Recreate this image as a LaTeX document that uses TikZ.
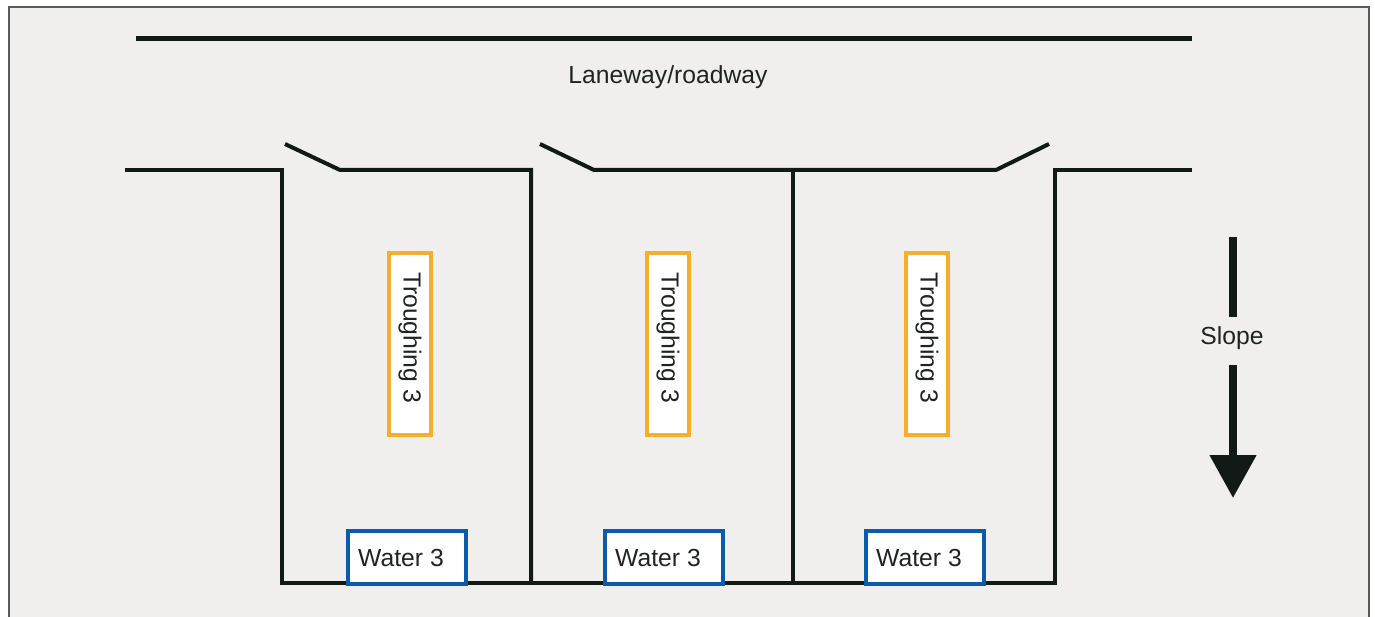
\documentclass[tikz,border=0pt]{standalone}
\usepackage{fontspec}
\setmainfont{Liberation Sans}
\usetikzlibrary{arrows.meta}
\definecolor{bg}{HTML}{F0EFED}
\definecolor{ink}{HTML}{111A17}
\definecolor{txt}{HTML}{1F2422}
\definecolor{framec}{HTML}{565B5A}
\definecolor{trough}{HTML}{F9AE2A}
\definecolor{water}{HTML}{0A5BAA}
\begin{document}
\begin{tikzpicture}[x=1pt,y=-1pt,
  fence/.style={draw=ink,line width=4pt,line join=miter},
  road/.style={draw=ink,line width=5pt},
  lbl/.style={text=txt,font=\fontsize{24.7}{29}\selectfont,inner sep=0pt},
  troughbox/.style={lbl,draw=trough,fill=white,line width=4pt,rotate=-90,
    minimum width=182pt,minimum height=42pt},
  waterbox/.style={lbl,draw=water,fill=white,line width=4pt,
    minimum width=118pt,minimum height=53pt},
  slope/.style={draw=ink,line width=8pt},
]
\useasboundingbox (0,0) rectangle (1375,617);
\fill[white] (0,0) rectangle (1375,617);
\fill[bg] (9,7) rectangle (1369,617);
\draw[framec,line width=2pt] (9,617) -- (9,7) -- (1369,7) -- (1369,617);

% road
\coordinate (r1) at (136,39);
\coordinate (r2) at (1192,39);
\draw[road] (r1) -- (r2);
\node[lbl] (lane) at (668,77) {Laneway/roadway};

% fence coordinates
\coordinate (fL) at (125,170);
\coordinate (c1t) at (282,170);
\coordinate (c1b) at (282,583);
\coordinate (c4b) at (1055,583);
\coordinate (c4t) at (1055,170);
\coordinate (fR) at (1192,170);
\coordinate (g1a) at (285,144);
\coordinate (g1b) at (340,170);
\coordinate (c2t) at (531,170);
\coordinate (c2b) at (531,583);
\coordinate (g2a) at (540,144);
\coordinate (g2b) at (594,170);
\coordinate (g3a) at (996,170);
\coordinate (g3b) at (1049,144);
\coordinate (c3t) at (793,170);
\coordinate (c3b) at (793,583);

\draw[fence] (fL) -- (c1t) -- (c1b) -- (c4b) -- (c4t) -- (fR);
\draw[fence] (g1a) -- (g1b) -- (c2t) -- (c2b);
\draw[fence] (g2a) -- (g2b) -- (g3a) -- (g3b);
\draw[fence] (c3t) -- (c3b);

% troughing
\node[troughbox] (t1) at (410,344) {Troughing 3\kern13pt};
\node[troughbox] (t2) at (668,344) {Troughing 3\kern13pt};
\node[troughbox] (t3) at (927,344) {Troughing 3\kern13pt};

% water
\node[waterbox] (w1) at (407,557.5) {Water 3\kern12pt};
\node[waterbox] (w2) at (664,557.5) {Water 3\kern12pt};
\node[waterbox] (w3) at (925,557.5) {Water 3\kern12pt};

% slope
\coordinate (s0) at (1233,237);
\coordinate (s1) at (1233,317);
\coordinate (s2) at (1233,365);
\coordinate (s3) at (1233,498);
\draw[slope] (s0) -- (s1);
\node[lbl] (slopetxt) at (1232,338) {Slope};
\draw[slope,-{Triangle[length=43pt,width=45pt]}] (s2) -- (s3);
\end{tikzpicture}
\end{document}
